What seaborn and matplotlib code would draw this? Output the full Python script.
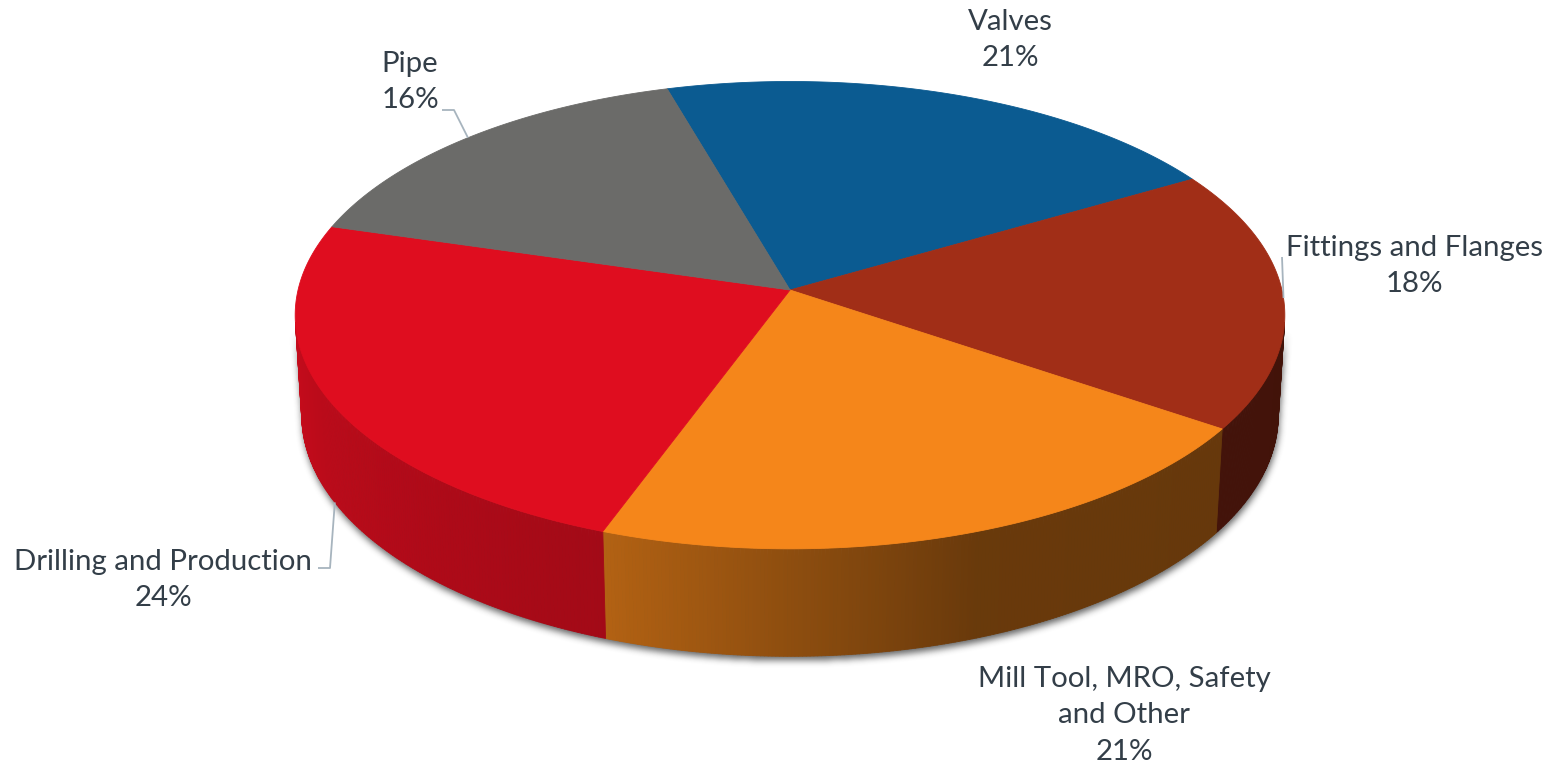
import numpy as np
import matplotlib
matplotlib.use("Agg")
import matplotlib.pyplot as plt
import seaborn as sns
from matplotlib.path import Path
from matplotlib.patches import Polygon
from matplotlib.collections import PolyCollection
from matplotlib.colors import to_rgb

# ---- data -------------------------------------------------------------
categories = ["Valves", "Fittings and Flanges", "Mill Tool, MRO, Safety\nand Other",
              "Drilling and Production", "Pipe"]
shares = [21, 18, 21, 24, 16]
colors = ["#0B5B91", "#A12E17", "#F5861A", "#DF0D1F", "#6B6B69"]

# ---- style ------------------------------------------------------------
sns.set_theme(style="white")
plt.rcParams["font.family"] = ["Lato", "DejaVu Sans"]
TEXT_COLOR = "#333E48"
LEADER_COLOR = "#A7B4BE"

W, H = 1550, 766
fig = plt.figure(figsize=(W / 100, H / 100), dpi=100)
ax = fig.add_axes([0, 0, 1, 1])
ax.set_xlim(0, W)
ax.set_ylim(H, 0)
ax.axis("off")

# ---- perspective camera for the 3-D disc -----------------------------
CX, CY = 790, 290          # screen position of the disc centre
ELEV = np.radians(28)      # viewing elevation
DIST = 8.2                 # camera distance (disc radius = 1)
FOCAL = 4034               # focal length in pixels
THICK = 0.232              # disc thickness
START = -16.0              # first slice starts here (deg, clockwise from back)


def project(theta_deg, z=0.0, r=1.0):
    t = np.radians(theta_deg)
    X, Y = r * np.sin(t), r * np.cos(t)
    v = Y * np.sin(ELEV) + z * np.cos(ELEV)
    w = Y * np.cos(ELEV) - z * np.sin(ELEV)
    s = FOCAL / (DIST + w)
    return CX + X * s, CY - v * s


# wall faces the camera where cos(theta) < -1/(DIST*cos(ELEV))
vis_half = np.degrees(np.arccos(-1.0 / (DIST * np.cos(ELEV))))
VIS_LO, VIS_HI = vis_half, 360 - vis_half

# wall shading as a function of angle (light from the front-left)
shade_theta = [VIS_LO, 160, 200, VIS_HI]
shade_val = [0.41, 0.43, 0.73, 0.88]

fractions = np.array(shares, dtype=float) / np.sum(shares)
bounds = START + np.concatenate([[0], np.cumsum(fractions)]) * 360

# ---- soft shadow under the wall -------------------------------------
th = np.linspace(VIS_LO, VIS_HI, 400)
tx, ty = project(th, 0.0)
bx, by = project(th[::-1], -THICK)
wall_outline = np.column_stack([np.concatenate([tx, bx]), np.concatenate([ty, by])])
gx, gy = np.meshgrid(np.arange(W) + 0.5, np.arange(H) + 0.5)
shift = np.array([1.0, 4.0])
mask = Path(wall_outline + shift).contains_points(
    np.column_stack([gx.ravel(), gy.ravel()])).reshape(H, W).astype(float)


def box_blur(a, r, axis):
    pad = [(0, 0), (0, 0)]
    pad[axis] = (r + 1, r)
    c = np.cumsum(np.pad(a, pad), axis=axis)
    n = 2 * r + 1
    if axis == 0:
        return (c[n:, :] - c[:-n, :]) / n
    return (c[:, n:] - c[:, :-n]) / n


for _ in range(3):
    mask = box_blur(box_blur(mask, 3, 0), 3, 1)
shadow = np.zeros((H, W, 4))
shadow[..., :3] = 0.22
shadow[..., 3] = np.clip(mask, 0, 1) * 0.8
ax.imshow(shadow, extent=(0, W, H, 0), zorder=1, interpolation="bilinear")

# ---- side walls (thin strips with angle-dependent shading) ----------
for i, col in enumerate(colors):
    a0, b0 = bounds[i], bounds[i + 1]
    # bring the slice range into [0, 360)
    for off in (-360, 0, 360):
        a, b = max(a0 + off, VIS_LO), min(b0 + off, VIS_HI)
        if b <= a:
            continue
        edges = np.linspace(a, b, max(int((b - a) / 0.4), 2) + 1)
        polys, fcs = [], []
        base = np.array(to_rgb(col))
        for e0, e1 in zip(edges[:-1], edges[1:]):
            x0, y0 = project(e0, 0.0)
            x1, y1 = project(e1, 0.0)
            x2, y2 = project(e1, -THICK)
            x3, y3 = project(e0, -THICK)
            polys.append([(x0, y0), (x1, y1), (x2, y2), (x3, y3)])
            f = np.interp(0.5 * (e0 + e1), shade_theta, shade_val)
            fcs.append(np.clip(base * f, 0, 1))
        ax.add_collection(PolyCollection(polys, facecolors=fcs, edgecolors=fcs,
                                         linewidths=0.6, zorder=2))

# ---- top faces -------------------------------------------------------
for i, col in enumerate(colors):
    arc = np.linspace(bounds[i], bounds[i + 1], 200)
    ax_, ay_ = project(arc, 0.0)
    pts = np.column_stack([np.concatenate([[CX], ax_]), np.concatenate([[CY], ay_])])
    ax.add_patch(Polygon(pts, closed=True, facecolor=col, edgecolor=col,
                         linewidth=0.6, zorder=3))

# ---- labels ----------------------------------------------------------
mids = 0.5 * (bounds[:-1] + bounds[1:])
label_pos = [(1010, 40), (1414, 266), (1124, 715), (163, 580), (410, 82)]
# leader lines: (label-side start, elbow, z-level of anchor on the disc)
leaders = {
    1: ((1282, 257), (1282, 257), 0.0),
    3: ((318, 568), (330, 568), -THICK),
    4: ((442, 110), (454, 110), 0.0),
}
for i, name in enumerate(categories):
    lx, ly = label_pos[i]
    ax.text(lx, ly, f"{name}\n{shares[i]}%", ha="center", va="center",
            fontsize=21.2, color=TEXT_COLOR, linespacing=1.5, zorder=5)
    if i in leaders:
        p0, p1, z = leaders[i]
        ex, ey = project(mids[i], z)
        ax.plot([p0[0], p1[0], ex], [p0[1], p1[1], ey], color=LEADER_COLOR,
                lw=1.3, zorder=4, solid_capstyle="butt")

fig.savefig("out.png", dpi=100, facecolor="white")
